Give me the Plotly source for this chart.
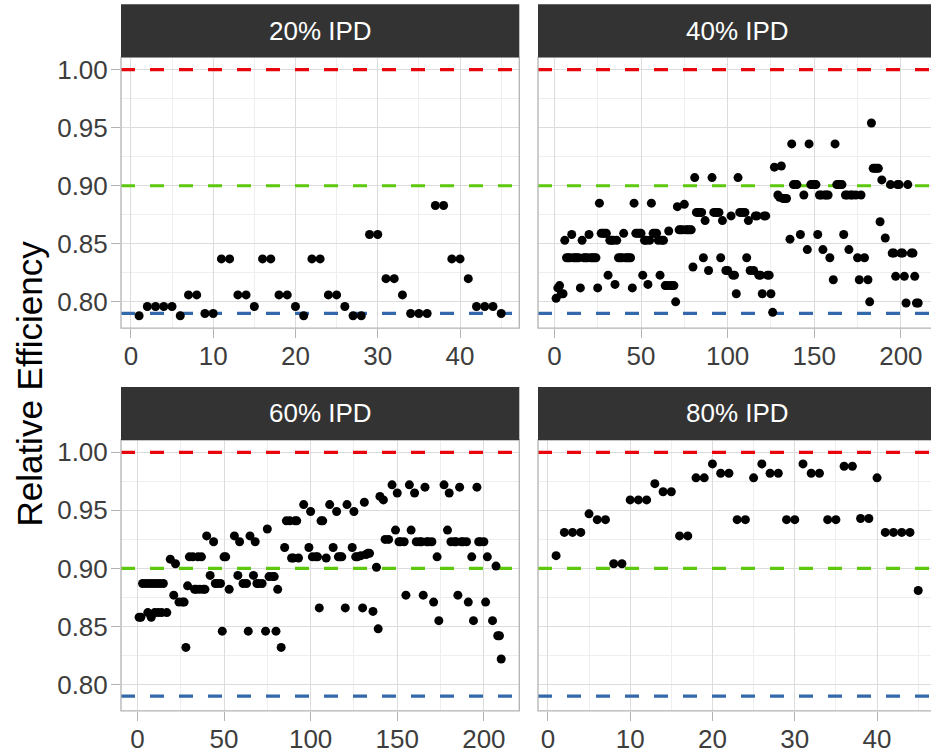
import plotly.graph_objects as go

# ---------------- data ----------------
panel_titles = ["20% IPD", "40% IPD", "60% IPD", "80% IPD"]
ref_levels = [1.00, 0.90, 0.79]
ref_colors = ["#E8060C", "#5DC80E", "#3369AA"]
x_ticks_small = [0, 10, 20, 30, 40]
x_ticks_large = [0, 50, 100, 150, 200]
y_ticks = [0.80, 0.85, 0.90, 0.95, 1.00]

ipd20_x = [1, 2, 3, 4, 5, 6, 7, 8, 9, 10, 11, 12, 13, 14, 15, 16, 17, 18, 19, 20, 21, 22, 23,
           24, 25, 26, 27, 28, 29, 30, 31, 32, 33, 34, 35, 36, 37, 38, 39, 40, 41, 42, 43, 44, 45]
ipd20_y = [0.788, 0.796, 0.796, 0.796, 0.796, 0.788, 0.806, 0.806, 0.790, 0.790, 0.837, 0.837,
           0.806, 0.806, 0.796, 0.837, 0.837, 0.806, 0.806, 0.796, 0.788, 0.837, 0.837, 0.806,
           0.806, 0.796, 0.788, 0.788, 0.858, 0.858, 0.820, 0.820, 0.806, 0.790, 0.790, 0.790,
           0.883, 0.883, 0.837, 0.837, 0.820, 0.796, 0.796, 0.796, 0.790]

ipd40_x = [1, 2, 3, 4, 5, 6, 7, 8, 9, 10, 11, 12, 13, 14, 15, 16, 17, 18, 19, 20, 21, 22, 23, 24,
           25, 26, 27, 28, 29, 30, 31, 32, 33, 34, 35, 36, 37, 38, 39, 40, 41, 42, 43, 44, 45, 46,
           47, 48, 49, 50, 51, 52, 53, 54, 55, 56, 57, 58, 59, 60, 61, 62, 63, 64, 65, 66, 67, 68,
           69, 70, 71, 72, 73, 74, 75, 76, 77, 78, 79, 80, 81, 82, 83, 84, 85, 86, 87, 89, 91, 92,
           93, 94, 95, 96, 97, 99, 100, 102, 103, 104, 105, 106, 107, 108, 109, 110, 111, 112, 113,
           115, 116, 117, 118, 119, 120, 121, 122, 123, 124, 125, 126, 127, 129, 130, 131, 132, 133,
           134, 136, 137, 138, 139, 140, 142, 144, 146, 147, 148, 149, 150, 151, 152, 153, 154, 155,
           156, 157, 158, 159, 161, 162, 163, 164, 165, 166, 167, 168, 169, 170, 171, 172, 174, 175,
           176, 177, 179, 181, 182, 183, 184, 185, 186, 187, 188, 189, 191, 194, 195, 196, 197, 198,
           199, 200, 201, 202, 203, 204, 206, 207, 208, 209, 210]
ipd40_y = [0.803, 0.812, 0.814, 0.807, 0.807, 0.853, 0.838, 0.838, 0.838, 0.858, 0.838, 0.838,
           0.838, 0.838, 0.812, 0.853, 0.838, 0.838, 0.838, 0.858, 0.838, 0.838, 0.838, 0.838,
           0.812, 0.885, 0.859, 0.859, 0.859, 0.859, 0.823, 0.853, 0.853, 0.853, 0.815, 0.853,
           0.838, 0.838, 0.838, 0.859, 0.838, 0.838, 0.838, 0.838, 0.812, 0.885, 0.859, 0.859,
           0.859, 0.859, 0.823, 0.853, 0.853, 0.815, 0.853, 0.885, 0.859, 0.859, 0.859, 0.853,
           0.823, 0.853, 0.853, 0.814, 0.814, 0.861, 0.814, 0.814, 0.814, 0.800, 0.882, 0.862,
           0.862, 0.862, 0.884, 0.862, 0.862, 0.862, 0.862, 0.830, 0.907, 0.877, 0.877, 0.877,
           0.877, 0.838, 0.870, 0.827, 0.907, 0.877, 0.877, 0.877, 0.877, 0.838, 0.870, 0.827,
           0.827, 0.874, 0.823, 0.823, 0.807, 0.907, 0.877, 0.877, 0.877, 0.877, 0.838, 0.870,
           0.827, 0.827, 0.874, 0.874, 0.823, 0.823, 0.807, 0.874, 0.874, 0.823, 0.823, 0.807,
           0.791, 0.916, 0.892, 0.890, 0.917, 0.889, 0.889, 0.889, 0.854, 0.936, 0.901, 0.901,
           0.901, 0.858, 0.892, 0.845, 0.936, 0.901, 0.901, 0.901, 0.901, 0.858, 0.892, 0.892,
           0.845, 0.892, 0.892, 0.892, 0.838, 0.819, 0.936, 0.901, 0.901, 0.901, 0.901, 0.858,
           0.892, 0.892, 0.845, 0.892, 0.892, 0.892, 0.838, 0.819, 0.892, 0.838, 0.819, 0.800,
           0.954, 0.915, 0.915, 0.915, 0.915, 0.869, 0.905, 0.855, 0.901, 0.842, 0.842, 0.822,
           0.901, 0.901, 0.842, 0.842, 0.822, 0.799, 0.901, 0.842, 0.842, 0.822, 0.799, 0.799]

ipd60_x = [1, 2, 3, 5, 6, 7, 8, 9, 10, 11, 12, 13, 14, 15, 17, 19, 21, 22, 24, 26, 27, 28, 29, 30,
           32, 33, 34, 35, 36, 37, 38, 39, 40, 42, 44, 45, 46, 48, 49, 50, 51, 53, 56, 58, 59, 61,
           63, 64, 65, 67, 68, 69, 70, 72, 74, 75, 76, 78, 79, 80, 81, 83, 85, 86, 88, 89, 90, 91,
           92, 93, 96, 99, 100, 101, 103, 104, 105, 106, 107, 109, 111, 113, 115, 116, 117, 118,
           120, 121, 124, 125, 126, 127, 129, 130, 131, 132, 133, 134, 136, 138, 139, 140, 142,
           143, 145, 147, 149, 150, 151, 152, 154, 155, 157, 158, 160, 161, 163, 164, 165, 166,
           167, 168, 170, 171, 173, 174, 177, 179, 180, 181, 183, 184, 185, 186, 187, 188, 190,
           191, 193, 194, 196, 197, 198, 200, 201, 202, 205, 207, 208, 209, 210]
ipd60_y = [0.858, 0.858, 0.887, 0.887, 0.862, 0.887, 0.858, 0.887, 0.862, 0.887, 0.862, 0.887,
           0.862, 0.887, 0.862, 0.908, 0.877, 0.904, 0.871, 0.871, 0.871, 0.832, 0.885, 0.910,
           0.910, 0.882, 0.882, 0.910, 0.882, 0.910, 0.882, 0.882, 0.928, 0.894, 0.923, 0.887,
           0.887, 0.887, 0.846, 0.910, 0.910, 0.882, 0.928, 0.894, 0.923, 0.887, 0.887, 0.846,
           0.928, 0.894, 0.923, 0.887, 0.887, 0.887, 0.846, 0.934, 0.893, 0.893, 0.893, 0.846,
           0.882, 0.832, 0.918, 0.941, 0.941, 0.909, 0.909, 0.941, 0.941, 0.909, 0.955, 0.918,
           0.949, 0.910, 0.910, 0.910, 0.866, 0.941, 0.941, 0.909, 0.955, 0.918, 0.949, 0.910,
           0.910, 0.910, 0.866, 0.955, 0.918, 0.949, 0.910, 0.910, 0.911, 0.866, 0.957, 0.912,
           0.913, 0.913, 0.863, 0.901, 0.848, 0.962, 0.959, 0.925, 0.925, 0.972, 0.933, 0.965,
           0.923, 0.923, 0.923, 0.877, 0.972, 0.933, 0.965, 0.923, 0.923, 0.923, 0.877, 0.970,
           0.923, 0.923, 0.923, 0.871, 0.910, 0.855, 0.972, 0.933, 0.965, 0.923, 0.923, 0.923,
           0.877, 0.970, 0.923, 0.923, 0.923, 0.871, 0.910, 0.855, 0.970, 0.923, 0.923, 0.923,
           0.871, 0.910, 0.855, 0.902, 0.842, 0.842, 0.822]

ipd80_x = [1, 2, 3, 4, 5, 6, 7, 8, 9, 10, 11, 12, 13, 14, 15, 16, 17, 18, 19, 20, 21, 22, 23,
           24, 25, 26, 27, 28, 29, 30, 31, 32, 33, 34, 35, 36, 37, 38, 39, 40, 41, 42, 43, 44, 45]
ipd80_y = [0.911, 0.931, 0.931, 0.931, 0.947, 0.942, 0.942, 0.904, 0.904, 0.959, 0.959, 0.959,
           0.973, 0.966, 0.966, 0.928, 0.928, 0.978, 0.978, 0.990, 0.982, 0.982, 0.942, 0.942,
           0.978, 0.990, 0.982, 0.982, 0.942, 0.942, 0.990, 0.982, 0.982, 0.942, 0.942, 0.988,
           0.988, 0.943, 0.943, 0.978, 0.931, 0.931, 0.931, 0.931, 0.881]

# ---------------- layout geometry ----------------
W, H = 931, 753
FONT = "Liberation Sans, Arial, Helvetica, sans-serif"
TICK_COL = "#3D3D3D"
BORDER = "#B3B3B3"
MAJOR = "#DCDCDC"
MINOR = "#EEEEEE"
STRIP = "#333333"


def fx(p):
    return p / W


def fy(p):
    return 1 - p / H


panel_left = [121.0, 538.0, 121.0, 538.0]
panel_width = 398.3
panel_top = [57.3, 57.3, 440.0, 440.0]
panel_height = 270.8
strip_h = 53.0

xs = [ipd20_x, ipd40_x, ipd60_x, ipd80_x]
ys = [ipd20_y, ipd40_y, ipd60_y, ipd80_y]
xticks = [x_ticks_small, x_ticks_large, x_ticks_large, x_ticks_small]
minor_x = [(5, 10), (25, 50), (25, 50), (5, 10)]

all_y = ipd20_y + ipd40_y + ipd60_y + ipd80_y + ref_levels
ylo, yhi = min(all_y), max(all_y)
yspan = yhi - ylo
y_range = [ylo - 0.05 * yspan, yhi + 0.05 * yspan]

fig = go.Figure()
shapes = []
annotations = []
layout_axes = {}

for i in range(4):
    n = i + 1
    sx = "" if n == 1 else str(n)
    xa, ya = "x" + sx, "y" + sx
    lo, hi = min(xs[i]), max(xs[i])
    span = hi - lo
    r0, r1 = lo - 0.05 * span, hi + 0.05 * span
    left = panel_left[i]
    right = left + panel_width
    dom_right = min(right, W)
    r1v = r0 + (r1 - r0) * (dom_right - left) / panel_width
    top = panel_top[i]
    bottom = top + panel_height

    layout_axes["xaxis" + sx] = dict(
        domain=[fx(left), min(1.0, fx(dom_right))], range=[r0, r1v], anchor=ya,
        tickvals=xticks[i], ticks="outside", ticklen=9, tickwidth=1.2, tickcolor=BORDER,
        ticklabelstandoff=-4,
        showgrid=True, gridcolor=MAJOR, gridwidth=1.1, zeroline=False, showline=False,
        minor=dict(tick0=minor_x[i][0], dtick=minor_x[i][1], showgrid=True,
                   gridcolor=MINOR, gridwidth=0.8),
        tickfont=dict(family=FONT, size=26, color=TICK_COL), automargin=False,
    )
    layout_axes["yaxis" + sx] = dict(
        domain=[fy(bottom), fy(top)], range=y_range, anchor=xa,
        tickvals=y_ticks, tickformat=".2f",
        ticks="outside" if n in (1, 3) else "", ticklen=9, tickwidth=1.2, tickcolor=BORDER,
        showticklabels=n in (1, 3), ticklabelstandoff=-2,
        showgrid=True, gridcolor=MAJOR, gridwidth=1.1, zeroline=False, showline=False,
        minor=dict(tick0=0.025, dtick=0.05, showgrid=True, gridcolor=MINOR, gridwidth=0.8),
        tickfont=dict(family=FONT, size=26, color=TICK_COL), automargin=False,
    )

    # reference lines (drawn as traces so they sit above the grid, below the points)
    for lvl, col in zip(ref_levels, ref_colors):
        fig.add_trace(go.Scatter(x=[r0, r1], y=[lvl, lvl], mode="lines", xaxis=xa, yaxis=ya,
                                 line=dict(color=col, width=3.2, dash="14px,15px"),
                                 showlegend=False, hoverinfo="skip"))

    # points
    fig.add_trace(go.Scatter(x=xs[i], y=ys[i], mode="markers", xaxis=xa, yaxis=ya,
                             marker=dict(color="black", size=9, line=dict(width=0)),
                             showlegend=False, hoverinfo="skip"))

    # panel border
    shapes.append(dict(type="rect", xref="paper", yref="paper",
                       x0=fx(left), x1=fx(right), y0=fy(bottom), y1=fy(top),
                       line=dict(color=BORDER, width=1.3), fillcolor="rgba(0,0,0,0)",
                       layer="above"))
    # strip
    shapes.append(dict(type="rect", xref="paper", yref="paper",
                       x0=fx(left), x1=fx(right), y0=fy(top), y1=fy(top - strip_h),
                       line=dict(width=0), fillcolor=STRIP, layer="above"))
    annotations.append(dict(text=panel_titles[i], xref="paper", yref="paper",
                            x=fx(left + panel_width / 2), y=fy(top - strip_h / 2),
                            xanchor="center", yanchor="middle", showarrow=False,
                            font=dict(family=FONT, size=26, color="white")))

annotations.append(dict(text="Relative Efficiency", xref="paper", yref="paper",
                        x=fx(30), y=fy(383.6), xanchor="center", yanchor="middle",
                        textangle=-90, showarrow=False,
                        font=dict(family=FONT, size=35, color="black")))

fig.update_layout(
    width=W, height=H, margin=dict(l=0, r=0, t=0, b=0),
    paper_bgcolor="white", plot_bgcolor="white",
    shapes=shapes, annotations=annotations, showlegend=False,
    **layout_axes,
)

fig.write_html("out.html", config={"displayModeBar": False},
               post_script="document.body.style.margin='0';")
